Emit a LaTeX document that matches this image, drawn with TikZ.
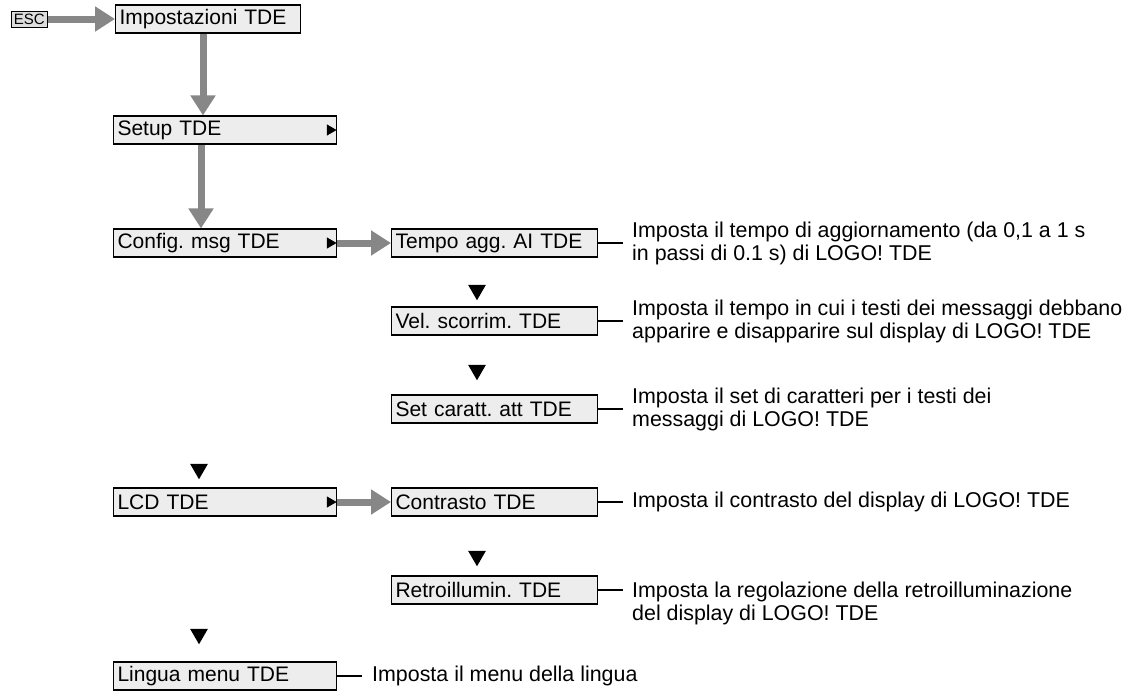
\documentclass[tikz,border=0pt]{standalone}
\usepackage{fontspec}
\setmainfont{Liberation Sans}
\usetikzlibrary{arrows.meta,shapes.geometric,calc}
\definecolor{boxfill}{HTML}{EDEDED}
\definecolor{arrowgray}{HTML}{878787}
\frenchspacing
\begin{document}
\begin{tikzpicture}[x=1pt,y=-1pt,
  menubox/.style={draw=black, fill=boxfill, line width=1.1pt, anchor=west,
    minimum height=28pt, inner xsep=4pt, inner ysep=0pt, align=left,
    font=\fontsize{21}{23}\selectfont},
  wide/.style={text width=215pt},
  narrow/.style={text width=198pt},
  desc/.style={anchor=west, align=left, inner xsep=9pt, inner ysep=0pt,
    font=\fontsize{21.4}{23}\selectfont},
  downtri/.style={regular polygon, regular polygon sides=3, shape border rotate=180,
    fill=black, inner sep=0pt, minimum size=20.5pt},
  righttri/.style={regular polygon, regular polygon sides=3, shape border rotate=-90,
    fill=black, inner sep=0pt, minimum size=13pt},
  grayarrow/.style={draw=arrowgray, line width=7pt,
    -{Triangle[length=20pt,width=24pt]}},
  conn/.style={draw=black, line width=1.1pt}
]
\useasboundingbox (0,0) rectangle (1130,691);

% ESC
\node[draw=black, fill=boxfill!85!gray, line width=0.8pt, anchor=west, inner xsep=1pt,
  inner ysep=0pt, minimum height=16pt, minimum width=36pt,
  font=\fontsize{15}{16}\selectfont] (esc) at (11,19) {ESC};

% left column
\node[menubox, text width=177pt] (impo) at (115,19) {Impostazioni TDE};
\node[menubox, wide] (setup) at (113,130) {Setup TDE};
\node[menubox, wide] (config) at (113,243) {Config. msg TDE};
\node[menubox, wide] (lcd) at (113,502) {LCD TDE};
\node[menubox, wide] (lingua) at (113,676) {Lingua menu TDE};

% right column
\node[menubox, narrow] (tempo) at (391,243) {Tempo agg. AI TDE};
\node[menubox, narrow] (vel) at (391,321) {Vel. scorrim. TDE};
\node[menubox, narrow] (setc) at (391,409) {Set caratt. att TDE};
\node[menubox, narrow] (contr) at (391,502) {Contrasto TDE};
\node[menubox, narrow] (retro) at (391,590) {Retroillumin. TDE};

% submenu markers
\node[righttri] (m1) at ([xshift=-7pt]setup.east) {};
\node[righttri] (m2) at ([xshift=-7pt]config.east) {};
\node[righttri] (m3) at ([xshift=-7pt]lcd.east) {};

% down triangles
\node[downtri] (t1) at (477,290) {};
\node[downtri] (t2) at (477,370) {};
\node[downtri] (t3) at (477,556) {};
\node[downtri] (t4) at (199,469) {};
\node[downtri] (t5) at (199,634) {};

% gray arrows
\draw[grayarrow] (esc.east) -- (impo.west);
\draw[grayarrow] ([xshift=88pt]impo.south west) -- ([xshift=90pt]setup.north west);
\draw[grayarrow] ([xshift=88pt]setup.south west) -- ([xshift=88pt]config.north west);
\draw[grayarrow] (config.east) -- (tempo.west);
\draw[grayarrow] (lcd.east) -- (contr.west);

% descriptions
\node[desc] (d1) at (623,243) {Imposta il tempo di aggiornamento (da 0,1 a 1 s\\in passi di 0.1 s) di LOGO! TDE};
\node[desc] (d2) at (623,321) {Imposta il tempo in cui i testi dei messaggi debbano\\apparire e disapparire sul display di LOGO! TDE};
\node[desc] (d3) at (623,409) {Imposta il set di caratteri per i testi dei\\messaggi di LOGO! TDE};
\node[desc] (d4) at (623,502) {Imposta il contrasto del display di LOGO! TDE};
\node[desc, anchor=north west] (d5) at (623,582) {Imposta la regolazione della retroilluminazione\\del display di LOGO! TDE};
\node[desc, inner xsep=10pt] (d6) at (362,676) {Imposta il menu della lingua};

% connectors
\draw[conn] (tempo.east) -- (d1.west);
\draw[conn] (vel.east) -- (d2.west);
\draw[conn] (setc.east) -- (d3.west);
\draw[conn] (contr.east) -- (d4.west);
\draw[conn] (retro.east) -- (retro.east -| d5.west);
\draw[conn] (lingua.east) -- (d6.west);
\end{tikzpicture}
\end{document}
